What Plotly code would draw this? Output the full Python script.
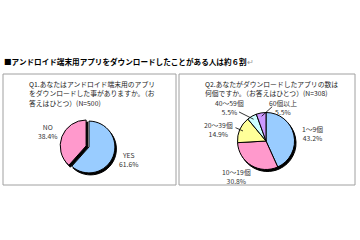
import math
import plotly.graph_objects as go

W, H = 360, 240

title_text = "■アンドロイド端末用アプリをダウンロードしたことがある人は約６割"
q1_lines = ["Q1.あなたはアンドロイド端末用のアプリ",
            "をダウンロードした事がありますか。（お",
            "答えはひとつ）(N=500)"]
q2_lines = ["Q2.あなたがダウンロードしたアプリの数は",
            "何個ですか。（お答えはひとつ）(N=308)"]

q1_labels = ["YES", "NO"]
q1_values = [61.6, 38.4]
q1_colors = ["#99CCFF", "#FF99CC"]
q1_pull = [0, 0.12]

q2_labels = ["1～9個", "10～19個", "20～39個", "40～59個", "60個以上"]
q2_values = [43.2, 30.8, 14.9, 5.5, 5.5]
q2_colors = ["#99CCFF", "#FF99CC", "#FFFF99", "#CCFFFF", "#CC99FF"]

# label positions (px) for annotations
q1_label_pos = [(128, 159), (47, 131)]
q2_label_pos = [(312, 133), (236, 176), (219, 129), (230, 107), (283, 108)]
# leader line tail offsets (px) relative to slice point; None = no leader
q2_leaders = [None, None, (-9, -4), (-16, -8), (12, -11)]

FONT = "Noto Sans CJK JP"

Q1_BOX = (60, 118, 118, 176)
Q2_BOX = (237.5, 294.5, 112.5, 169.5)


def px_domain(x0, x1, y0, y1):
    return dict(x=[x0 / W, x1 / W], y=[1 - y1 / H, 1 - y0 / H])


fig = go.Figure()


def add_pie(labels, values, colors, pull, box, dx=1.5, dy=2.0):
    x0, x1, y0, y1 = box
    fig.add_trace(go.Pie(labels=labels, values=values, sort=False, direction="clockwise",
                         rotation=0, pull=pull, textinfo="none", hoverinfo="skip",
                         marker=dict(colors=["#000000"] * len(values), line=dict(color="#000", width=1)),
                         domain=px_domain(x0 + dx, x1 + dx, y0 + dy, y1 + dy), showlegend=False))
    fig.add_trace(go.Pie(labels=labels, values=values, sort=False, direction="clockwise",
                         rotation=0, pull=pull, textinfo="none",
                         marker=dict(colors=colors, line=dict(color="#000", width=1)),
                         domain=px_domain(x0, x1, y0, y1), showlegend=False))


add_pie(q1_labels, q1_values, q1_colors, q1_pull, Q1_BOX)
add_pie(q2_labels, q2_values, q2_colors, [0] * 5, Q2_BOX)

shapes = [
    dict(type="rect", xref="paper", yref="paper", x0=3 / W, x1=176 / W, y0=1 - 185 / H, y1=1 - 74 / H,
         line=dict(color="#A0A0A0", width=1)),
    dict(type="rect", xref="paper", yref="paper", x0=179 / W, x1=355 / W, y0=1 - 185 / H, y1=1 - 74 / H,
         line=dict(color="#A0A0A0", width=1)),
]

annotations = [
    dict(x=2 / W, y=1 - 61 / H, xref="paper", yref="paper", xanchor="left", yanchor="middle",
         text="<b>" + title_text + "</b><span style='color:#999'>↵</span>", showarrow=False,
         font=dict(family=FONT, size=7.6, color="#000")),
]
for i, line in enumerate(q1_lines):
    annotations.append(dict(x=27 / W, y=1 - (84 + 9.3 * i) / H, xref="paper", yref="paper",
                            xanchor="left", yanchor="middle", text=line, showarrow=False,
                            font=dict(family=FONT, size=6.8, color="#222")))
for i, line in enumerate(q2_lines):
    annotations.append(dict(x=203 / W, y=1 - (84 + 9.3 * i) / H, xref="paper", yref="paper",
                            xanchor="left", yanchor="middle", text=line, showarrow=False,
                            font=dict(family=FONT, size=6.8, color="#222")))

for lab, val, (x, y) in zip(q1_labels, q1_values, q1_label_pos):
    annotations.append(dict(x=x / W, y=1 - y / H, xref="paper", yref="paper", xanchor="center",
                            yanchor="middle", text=f"{lab}<br>{val:.1f}%", showarrow=False,
                            font=dict(family=FONT, size=6.8, color="#333")))
for lab, val, (x, y) in zip(q2_labels, q2_values, q2_label_pos):
    annotations.append(dict(x=x / W, y=1 - y / H, xref="paper", yref="paper", xanchor="center",
                            yanchor="middle", text=f"{lab}<br>{val:.1f}%", showarrow=False,
                            font=dict(family=FONT, size=6.8, color="#333")))

# leader lines for small slices, pointing at each slice's mid-angle
cx = (Q2_BOX[0] + Q2_BOX[1]) / 2
cy = (Q2_BOX[2] + Q2_BOX[3]) / 2
r = (Q2_BOX[1] - Q2_BOX[0]) / 2
total = sum(q2_values)
cum = 0.0
for val, lead in zip(q2_values, q2_leaders):
    mid = (cum + val / 2) / total * 2 * math.pi
    cum += val
    if lead is None:
        continue
    px = cx + 0.88 * r * math.sin(mid)
    py = cy - 0.88 * r * math.cos(mid)
    annotations.append(dict(x=px / W, y=1 - py / H, xref="paper", yref="paper", text="",
                            showarrow=True, arrowhead=0, arrowwidth=0.8, arrowcolor="#000",
                            ax=lead[0], ay=lead[1], standoff=0, startstandoff=0))

fig.update_layout(width=W, height=H, margin=dict(l=0, r=0, t=0, b=0),
                  paper_bgcolor="white", plot_bgcolor="white",
                  shapes=shapes, annotations=annotations)

fig.write_html("out.html", config={"displayModeBar": False})
